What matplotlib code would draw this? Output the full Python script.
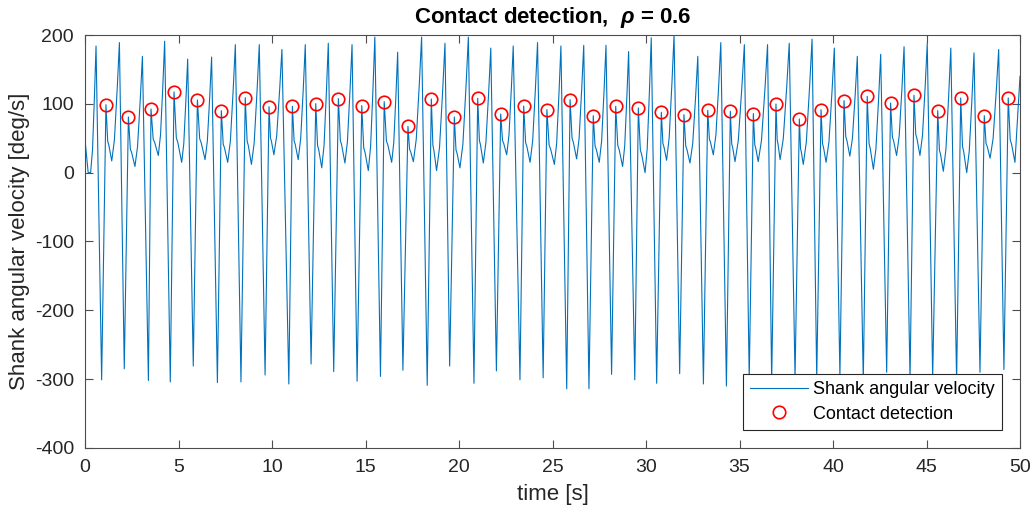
import numpy as np
import matplotlib
matplotlib.use("Agg")
import matplotlib.pyplot as plt

plt.rcParams['font.family'] = ['Liberation Sans', 'DejaVu Sans']
plt.rcParams['axes.unicode_minus'] = False
plt.rcParams['mathtext.fontset'] = 'custom'
plt.rcParams['mathtext.it'] = 'Liberation Sans:italic:bold'

# Contact detection points (time [s], angular velocity [deg/s])
contact_t = [1.12, 2.32, 3.53, 4.76, 6.01, 7.29, 8.57, 9.84, 11.09, 12.34,
             13.55, 14.80, 16.00, 17.27, 18.52, 19.75, 21.00, 22.23, 23.46, 24.70,
             25.94, 27.18, 28.38, 29.59, 30.82, 32.03, 33.30, 34.51, 35.74, 36.95,
             38.20, 39.36, 40.59, 41.83, 43.08, 44.33, 45.60, 46.83, 48.09, 49.37]
contact_v = [98.8, 81.0, 92.6, 117.3, 105.7, 90.1, 109.0, 96.0, 96.4, 100.3,
             107.6, 97.4, 103.2, 67.3, 107.1, 81.0, 108.0, 85.3, 96.9, 91.6,
             106.1, 82.8, 96.4, 94.0, 87.7, 84.3, 90.6, 89.1, 85.8, 99.8,
             78.0, 91.6, 104.7, 110.9, 101.3, 112.4, 90.1, 108.6, 82.8, 108.6]

# swing peaks (before each contact)
peak_t = [0.59, 1.84, 3.07, 4.26, 5.49, 6.77, 8.04, 9.32, 10.53, 11.78,
          13.01, 14.28, 15.50, 16.72, 18.00, 19.25, 20.50, 21.70, 22.90, 24.20,
          25.45, 26.67, 27.86, 29.07, 30.28, 31.50, 32.77, 34.00, 35.26, 36.50,
          37.66, 38.88, 40.07, 41.30, 42.55, 43.80, 45.04, 46.30, 47.54, 48.86]
peak_v = [184, 189, 169, 191, 165, 168, 186, 186, 179, 186,
          188, 186, 197, 175, 197, 188, 197, 181, 184, 189,
          184, 185, 185, 176, 196, 200, 169, 189, 186, 186,
          188, 194, 181, 169, 172, 183, 188, 181, 174, 179]

# negative minima (between peak and contact)
min_t = [0.89, 2.10, 3.39, 4.56, 5.79, 7.08, 8.34, 9.63, 10.90, 12.09,
         13.30, 14.55, 15.80, 17.00, 18.30, 19.50, 20.80, 22.00, 23.26, 24.50,
         25.76, 26.95, 28.16, 29.40, 30.57, 31.80, 33.07, 34.30, 35.52, 36.72,
         37.97, 39.13, 40.37, 41.62, 42.87, 44.12, 45.33, 46.61, 47.86, 49.14]
min_v = [-301, -285, -302, -304, -281, -305, -304, -294, -307, -278,
         -289, -303, -296, -287, -309, -281, -306, -288, -301, -298,
         -314, -314, -293, -301, -306, -292, -307, -310, -300, -304,
         -298, -300, -296, -302, -290, -300, -298, -303, -290, -286]

# troughs after each contact
trough_t = [1.43, 2.67, 3.92, 5.17, 6.42, 7.63, 8.90, 10.10, 11.40, 12.66,
            13.90, 15.15, 16.40, 17.56, 18.80, 20.05, 21.30, 22.55, 23.80, 25.10,
            26.29, 27.50, 28.75, 29.95, 31.10, 32.35, 33.60, 34.76, 36.00, 37.17,
            38.41, 39.63, 40.90, 42.16, 43.40, 44.65, 45.90, 47.15, 48.40, 49.73]
trough_v = [17, 9, 25, 15, 19, 15, 12, 26, 19, 7,
            14, 3, 15, 16, 3, 7, 14, 26, 15, 12,
            20, 15, 9, 0, 18, 14, 26, 16, 16, 19,
            12, 15, 24, 5, 25, 25, 2, 0, 21, 15]

# start / end of the record
start_t = [0.0, 0.17, 0.30]
start_v = [48, 0, 0]
end_t, end_v = 50.0, 140

# shape of the decay after contact and the rise before the swing peak
decay_pos = [0.3, 0.5]
decay_lvl = [0.35, 0.28]
rise_pos = [0.35, 0.72]
rise_lvl = [0.18, 0.62]

# assemble the signal vertices
t, v = list(start_t), list(start_v)
prev_t, prev_v = start_t[-1], start_v[-1]
for k in range(len(contact_t)):
    # rise from the previous trough up to the swing peak
    for f, g in zip(rise_pos, rise_lvl):
        t.append(prev_t + f * (peak_t[k] - prev_t))
        v.append(prev_v + g * (peak_v[k] - prev_v))
    t += [peak_t[k], min_t[k], contact_t[k]]
    v += [peak_v[k], min_v[k], contact_v[k]]
    # decay after the contact down to the trough
    for f, g in zip(decay_pos, decay_lvl):
        t.append(contact_t[k] + f * (trough_t[k] - contact_t[k]))
        v.append(trough_v[k] + g * (contact_v[k] - trough_v[k]))
    t.append(trough_t[k])
    v.append(trough_v[k])
    prev_t, prev_v = trough_t[k], trough_v[k]
t.append(end_t)
v.append(end_v)

fig = plt.figure(figsize=(10.36, 5.16), dpi=100)
ax = fig.add_axes([85 / 1036, 1 - 448 / 516, 935 / 1036, 413 / 516])

ax.plot(t, v, color='#0072BD', linewidth=0.8, label='Shank angular velocity')
ax.plot(contact_t, contact_v, 'o', markersize=9, markerfacecolor='none',
        markeredgecolor='#FF0000', markeredgewidth=1.2, label='Contact detection')

ax.set_xlim(0, 50)
ax.set_ylim(-400, 200)
ax.set_xticks(np.arange(0, 51, 5))
ax.set_yticks(np.arange(-400, 201, 100))

ax.tick_params(direction='in', length=6, width=0.8, colors='#4d4d4d',
               labelcolor='#262626', labelsize=14, top=True, right=True, pad=8)
for s in ax.spines.values():
    s.set_color('#4d4d4d')
    s.set_linewidth(0.8)

ax.set_xlabel('time [s]', fontsize=16, color='#262626', labelpad=6)
ax.set_ylabel('Shank angular velocity [deg/s]', fontsize=16, color='#262626', labelpad=3)
ax.set_title(r'Contact detection,  $\rho$ = 0.6', fontsize=16, fontweight='bold', pad=9)

leg = ax.legend(loc='lower right', bbox_to_anchor=(0.981, 0.044), borderaxespad=0,
                fontsize=13, fancybox=False, edgecolor='#262626', framealpha=1,
                handlelength=3.2, handletextpad=0.3, borderpad=0.4, labelspacing=0.4)
leg.get_frame().set_linewidth(0.8)

plt.savefig('out.png', dpi=100)
